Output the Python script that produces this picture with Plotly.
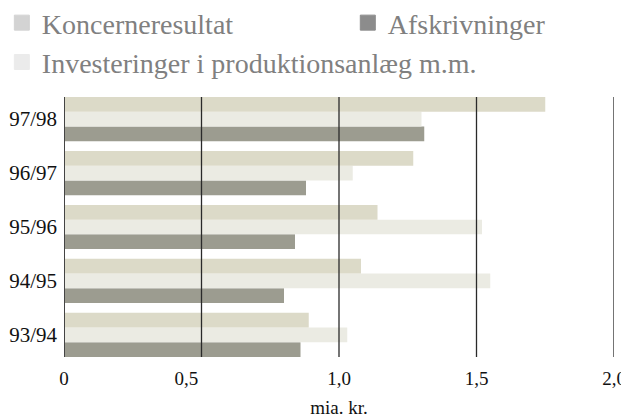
import plotly.graph_objects as go

# years, bottom to top
years = ["93/94", "94/95", "95/96", "96/97", "97/98"]

# mia. kr.
koncernresultat = [0.89, 1.08, 1.14, 1.27, 1.75]
investeringer = [1.03, 1.55, 1.52, 1.05, 1.30]
afskrivninger = [0.86, 0.80, 0.84, 0.88, 1.31]

grid_vals = [0, 0.5, 1.0, 1.5, 2.0]
tick_pos = [0, 0.445, 1.0, 1.5, 2.0]   # the "0,5" label sits left of its line
tick_text = ["0", "0,5", "1,0", "1,5", "2,0"]

SERIF = "Liberation Serif, Times New Roman, serif"

fig = go.Figure()

# bar traces: first trace lands at the bottom of each group
fig.add_trace(go.Bar(y=years, x=afskrivninger, orientation="h",
                     marker=dict(color="#9c9c90", line_width=0), showlegend=False))
fig.add_trace(go.Bar(y=years, x=investeringer, orientation="h",
                     marker=dict(color="#ebebe3", line_width=0), showlegend=False))
fig.add_trace(go.Bar(y=years, x=koncernresultat, orientation="h",
                     marker=dict(color="#dcdac8", line_width=0), showlegend=False))

# legend entries (gray squares like the original)
legend_items = [("Koncerneresultat", "#d3d3d3", "legend"),
                ("Investeringer i produktionsanlæg m.m.", "#ebebeb", "legend"),
                ("Afskrivninger", "#8c8c8c", "legend2")]
for name, col, lg in legend_items:
    fig.add_trace(go.Scatter(x=[None], y=[None], mode="markers", name=name,
                             legend=lg,
                             marker=dict(symbol="square", size=15, color=col,
                                         line=dict(color=col, width=1))))

# vertical lines drawn on top of the bars
for v in grid_vals:
    fig.add_shape(type="line", xref="x", yref="paper", x0=v, x1=v, y0=0, y1=1,
                  line=dict(color="#444444" if v == 0 else "#2a2a2a",
                            width=2 if v == 0 else 1.3),
                  layer="above")

# page body has an 8px margin, so the figure is a bit smaller than the window
leg_font = dict(family=SERIF, size=28, color="#808080")
fig.update_layout(
    width=621, height=410,
    margin=dict(l=56, r=15, t=89, b=61, autoexpand=False),
    paper_bgcolor="white", plot_bgcolor="white",
    barmode="group", bargap=0.18, bargroupgap=0,
    font=dict(family=SERIF, color="#111111"),
    legend=dict(orientation="v", x=-0.113, y=1.381, xanchor="left", yanchor="top",
                font=leg_font, itemclick=False, bgcolor="rgba(0,0,0,0)",
                tracegroupgap=0),
    legend2=dict(orientation="v", x=0.516, y=1.381, xanchor="left", yanchor="top",
                 font=leg_font, itemclick=False, bgcolor="rgba(0,0,0,0)"),
    xaxis=dict(range=[0, 2.0], tickvals=tick_pos, ticktext=tick_text,
               showgrid=False, zeroline=False, showline=False, ticks="",
               ticklabelstandoff=8,
               tickfont=dict(size=19, color="#111111"),
               title=dict(text="mia. kr.", font=dict(size=19, color="#111111"),
                          standoff=12)),
    yaxis=dict(range=[-0.41, 4.41], showgrid=False, zeroline=False,
               showline=False, ticks="", ticklabelstandoff=6,
               tickfont=dict(size=21, color="#111111")),
)

fig.write_html("out.html")
